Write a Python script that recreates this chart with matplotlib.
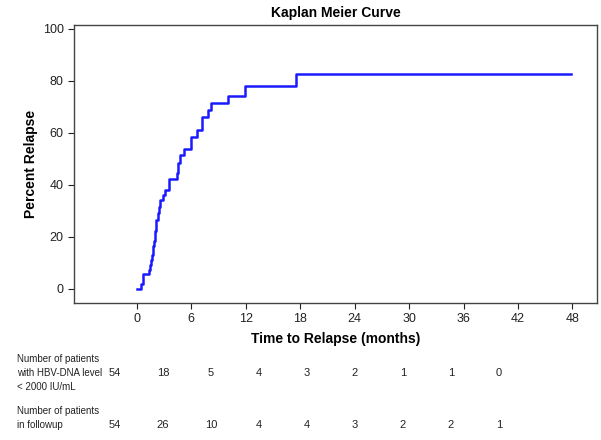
import numpy as np
import matplotlib.pyplot as plt

plt.rcParams['font.family'] = ['Liberation Sans', 'DejaVu Sans']

# Kaplan-Meier step points (months, percent relapse)
times = [0, 0.45, 0.75, 1.4, 1.5, 1.6, 1.7, 1.8, 1.9, 2.0, 2.1, 2.3, 2.45, 2.6,
         2.85, 3.1, 3.6, 4.4, 4.5, 4.8, 5.2, 6.0, 6.6, 7.2, 7.9, 8.2, 10.1,
         11.9, 17.6, 47.8]
percent = [0, 1.9, 5.6, 7.4, 9.3, 11.1, 13.0, 16.7, 18.5, 22.2, 26.5, 29.2,
           31.5, 34.2, 36.0, 38.1, 42.3, 44.6, 48.5, 51.5, 53.8, 58.4, 61.0,
           66.1, 68.8, 71.5, 74.2, 78.2, 82.7, 82.7]

xticks = [0, 6, 12, 18, 24, 30, 36, 42, 48]
yticks = [0, 20, 40, 60, 80, 100]

row1_label = "Number of patients\nwith HBV-DNA level\n< 2000 IU/mL"
row1_vals = [54, 18, 5, 4, 3, 2, 1, 1, 0]
row2_label = "Number of patients\nin followup"
row2_vals = [54, 26, 10, 4, 4, 3, 2, 2, 1]

W, H = 601, 440
fig = plt.figure(figsize=(W / 100, H / 100), dpi=100)
ax = fig.add_axes([74 / W, 1 - 303 / H, (597 - 74) / W, (303 - 25) / H])

ax.plot(times, percent, drawstyle='steps-post', color='#1a1aff', lw=1.8)

ax.set_xlim(-6.9, 50.7)
ax.set_ylim(-5.4, 101.5)
ax.set_xticks(xticks)
ax.set_yticks(yticks)
ax.tick_params(direction='out', length=4, width=0.8, labelsize=9, colors='#222222')
for s in ax.spines.values():
    s.set_color('#444444')
    s.set_linewidth(1.0)

ax.set_title("Kaplan Meier Curve", fontsize=10, fontweight='bold', pad=6)
ax.set_xlabel("Time to Relapse (months)", fontsize=10, fontweight='bold', labelpad=5)
ax.set_ylabel("Percent Relapse", fontsize=10, fontweight='bold', labelpad=3)

# at-risk table below the axes
xs = np.linspace(115, 499, len(row1_vals)) / W
fig.text(17 / W, 1 - 373 / H, row1_label, fontsize=7, va='center', ha='left',
         linespacing=1.45, color='#222222')
fig.text(17 / W, 1 - 418 / H, row2_label, fontsize=7, va='center', ha='left',
         linespacing=1.45, color='#222222')
for x, v1, v2 in zip(xs, row1_vals, row2_vals):
    fig.text(x, 1 - 373 / H, str(v1), fontsize=8, ha='center', va='center', color='#222222')
    fig.text(x, 1 - 425 / H, str(v2), fontsize=8, ha='center', va='center', color='#222222')

fig.savefig("out.png", dpi=100)
